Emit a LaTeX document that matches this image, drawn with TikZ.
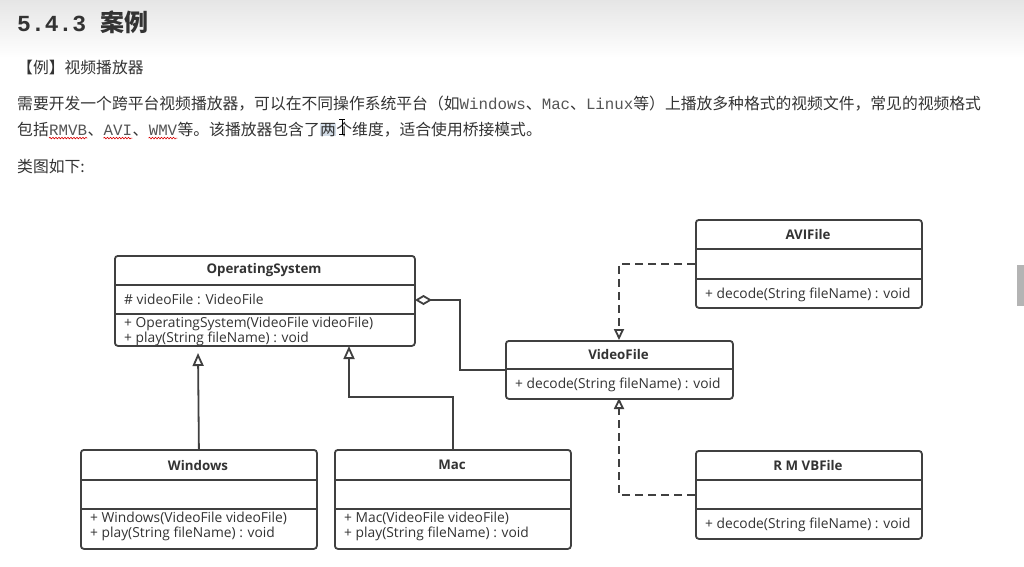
\documentclass[tikz,border=0pt]{standalone}
\usepackage{fontspec}
\usetikzlibrary{arrows.meta,decorations.pathmorphing}
\newfontfamily\cjk{Noto Sans CJK SC}
\newfontfamily\mono{Liberation Mono}
\newfontfamily\umlfont{Open Sans}
\definecolor{linec}{HTML}{404040}
\definecolor{txtc}{HTML}{333333}
\definecolor{monoc}{HTML}{555555}
\definecolor{hilite}{HTML}{D3DDE8}
\definecolor{scrollc}{HTML}{B4B4B4}
\tikzset{
  classbox/.style={draw=linec, line width=1.8pt, rounded corners=3pt, fill=white, inner sep=0pt, anchor=north west},
  divider/.style={draw=linec, line width=1.8pt},
  cname/.style={font=\umlfont\bfseries\fontsize{13.3}{15}\selectfont, text=txtc, inner sep=0pt},
  member/.style={font=\umlfont\fontsize{13.8}{15}\selectfont, text=txtc, inner sep=0pt, anchor=west},
  para/.style={font=\cjk\fontsize{15.8}{18}\selectfont, text=txtc, inner sep=0pt, anchor=west},
  seg/.style={font=\cjk\fontsize{15.8}{18}\selectfont, text=txtc, inner sep=0pt, anchor=base west},
  mseg/.style={font=\mono\fontsize{15.8}{18}\selectfont, text=monoc, inner sep=0pt, anchor=base west},
  conn/.style={draw=linec, line width=1.8pt},
  inh/.style={conn, -{Triangle[open, length=13pt, width=11pt, fill=white]}},
  real/.style={conn, dash pattern=on 8pt off 5pt, -{Triangle[open, length=11pt, width=10pt, fill=white]}},
  agg/.style={conn, {Diamond[open, length=17pt, width=10pt, fill=white]}-},
  wavy/.style={draw=red!85!black, line width=0.6pt, decorate, decoration={snake, amplitude=0.8pt, segment length=3pt}}
}
\begin{document}
\begin{tikzpicture}[x=1pt,y=-1pt]
\useasboundingbox[fill=white] (0,0) rectangle (1024,566);
% header band
\shade[top color=black!10, bottom color=white] (0,0) rectangle (1024,58);
\node[anchor=west, inner sep=0pt, text=txtc] (title) at (17,22)
  {{\mono\bfseries\fontsize{23}{25}\selectfont 5.4.3 }{\cjk\bfseries\fontsize{24}{25}\selectfont 案例}};
% scrollbar
\fill[scrollc] (1017,265) rectangle (1024,306);
% text
\node[para] (ex) at (17,67) {【例】视频播放器};
\node[para] (p1) at (17,104) {需要开发一个跨平台视频播放器，可以在不同操作系统平台（如{\mono\color{monoc}Windows}、{\mono\color{monoc}Mac}、{\mono\color{monoc}Linux}等）上播放多种格式的视频文件，常见的视频格式};
\node[para] (p2a) at (17,129) {包括};
\node[mseg] (rmvb) at (p2a.base east) {RMVB};
\node[seg] (s1) at (rmvb.base east) {、};
\node[mseg] (avit) at (s1.base east) {AVI};
\node[seg] (s2) at (avit.base east) {、};
\node[mseg] (wmv) at (s2.base east) {WMV};
\node[seg] (p2b) at (wmv.base east) {等。该播放器包含了};
\node[seg, fill=hilite] (liang) at (p2b.base east) {两};
\node[seg] (p2c) at (liang.base east) {个维度，适合使用桥接模式。};
\draw[wavy] ([yshift=-3pt]rmvb.base west) -- ([yshift=-3pt]rmvb.base east);
\draw[wavy] ([yshift=-3pt]avit.base west) -- ([yshift=-3pt]avit.base east);
\draw[wavy] ([yshift=-3pt]wmv.base west) -- ([yshift=-3pt]wmv.base east);
% I-beam cursor
\draw[black, line width=0.8pt] ([xshift=3pt,yshift=16pt]liang.base east) -- ++(6,0) ++(-3,0) -- ++(0,15) ++(-3,0) -- ++(6,0);
\node[para] (p3) at (17,167) {类图如下:};

% ---- OperatingSystem
\node[classbox, minimum width=300pt, minimum height=90pt] (os) at (114,255) {};
\draw[divider] (114,285) -- (414,285);
\draw[divider] (114,314) -- (414,314);
\node[cname] (osn) at (264,270) {OperatingSystem};
\node[member] (osa) at (124,299.5) {\# videoFile : VideoFile};
\node[member] (osm1) at (124,323.5) {+ OperatingSystem(VideoFile videoFile)};
\begin{scope}
\clip (115,314) rectangle (413,344);
\node[member] (osm2) at (124,339) {+ play(String fileName) : void};
\end{scope}

% ---- VideoFile
\node[classbox, minimum width=227pt, minimum height=58pt] (vf) at (505,340) {};
\draw[divider] (505,369) -- (732,369);
\node[cname] (vfn) at (618.5,355) {VideoFile};
\node[member] (vfm) at (515,385) {+ decode(String fileName) : void};

% ---- AVIFile
\node[classbox, minimum width=226pt, minimum height=88pt] (avi) at (695,219) {};
\draw[divider] (695,249) -- (921,249);
\draw[divider] (695,279) -- (921,279);
\node[cname] (avin) at (808,235) {AVIFile};
\node[member] (avim) at (705,294.5) {+ decode(String fileName) : void};

% ---- RMVBFile
\node[classbox, minimum width=226pt, minimum height=88pt] (rm) at (695,450) {};
\draw[divider] (695,480) -- (921,480);
\draw[divider] (695,509) -- (921,509);
\node[cname] (rmn) at (808,465) {R M VBFile};
\node[member] (rmm) at (705,524.5) {+ decode(String fileName) : void};

% ---- Windows
\node[classbox, minimum width=236pt, minimum height=99pt] (win) at (80,449) {};
\draw[divider] (80,480) -- (316,480);
\draw[divider] (80,509) -- (316,509);
\node[cname] (winn) at (198,465) {Windows};
\node[member] (winm1) at (90,518.5) {+ Windows(VideoFile videoFile)};
\node[member] (winm2) at (90,533.5) {+ play(String fileName) : void};

% ---- Mac
\node[classbox, minimum width=236pt, minimum height=99pt] (mac) at (334,449) {};
\draw[divider] (334,480) -- (570,480);
\draw[divider] (334,509) -- (570,509);
\node[cname] (macn) at (452,465) {Mac};
\node[member] (macm1) at (344,518.5) {+ Mac(VideoFile videoFile)};
\node[member] (macm2) at (344,533.5) {+ play(String fileName) : void};

% ---- connectors
\coordinate (osagg) at (415,300);
\coordinate (winTip) at (198,353);
\coordinate (macTip) at (349,346);
\coordinate (vfTop) at (619,340);
\coordinate (vfBot) at (619,398);
\draw[agg] (osagg) -- (460,300) |- (vf.west);
\draw[inh] (win.north) -- (winTip);
\draw[inh] (mac.north) -- ++(0,-52) -| (macTip);
\draw[real] (avi.west) -| (vfTop);
\draw[real] (rm.west) -| (vfBot);
\end{tikzpicture}
\end{document}
